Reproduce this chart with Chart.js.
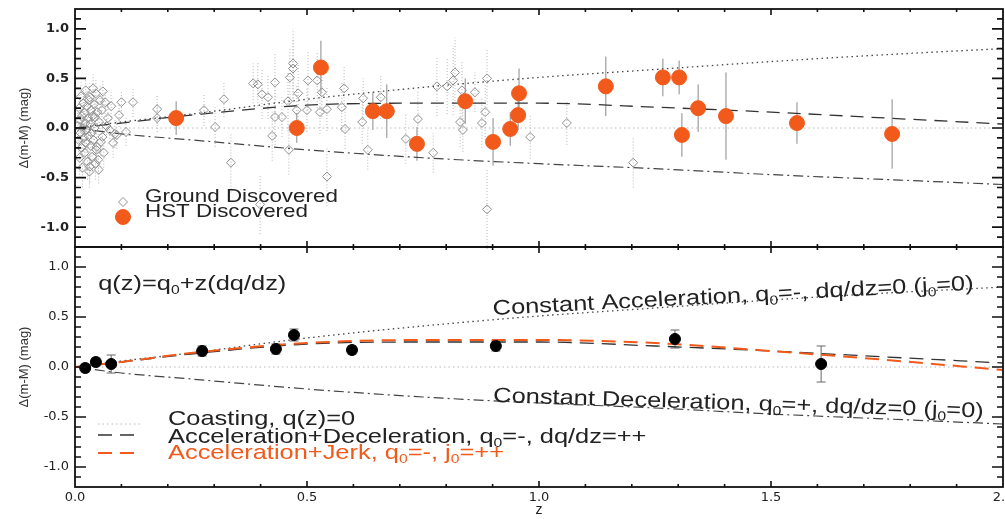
<!DOCTYPE html>
<html>
<head>
<meta charset="utf-8">
<script src="https://cdn.jsdelivr.net/npm/chart.js@4.4.1/dist/chart.umd.min.js"></script>
<style>
  html, body { margin: 0; padding: 0; background: #fff; width: 1005px; height: 519px; overflow: hidden; }
  #cTop { position: absolute; left: 0; top: 0; }
  #cBot { position: absolute; left: 0; top: 240px; }
</style>
</head>
<body>
<canvas id="cTop" width="1005" height="252"></canvas>
<canvas id="cBot" width="1005" height="279"></canvas>
<script>
// axes
const xTicks = [0, 0.5, 1.0, 1.5, 2.0];
const yTicks = [-1.0, -0.5, 0.0, 0.5, 1.0];

// model curves (delta distance modulus vs z)
const modelZ = [0, 0.1, 0.25, 0.5, 0.75, 1.0, 1.25, 1.5, 1.75, 2.0];
const constAccel = [0, 0.06, 0.14, 0.29, 0.41, 0.51, 0.59, 0.67, 0.74, 0.80];
const accelDecel = [0, 0.05, 0.13, 0.23, 0.25, 0.25, 0.21, 0.16, 0.10, 0.04];
const accelJerk = [0, 0.05, 0.14, 0.24, 0.27, 0.27, 0.24, 0.16, 0.07, -0.03];
const constDecel = [0, -0.06, -0.12, -0.22, -0.30, -0.36, -0.41, -0.47, -0.52, -0.57];
const coastZ = [0, 2.0];
const coastY = [0, 0];

// ground discovered SNe
const groundZ = [0.006, 0.008, 0.009, 0.010, 0.011, 0.012, 0.013, 0.014, 0.015, 0.016, 0.017, 0.018, 0.019, 0.020,
  0.021, 0.022, 0.023, 0.024, 0.025, 0.026, 0.027, 0.028, 0.029, 0.030, 0.031, 0.032, 0.032, 0.033, 0.034, 0.035,
  0.036, 0.037, 0.038, 0.039, 0.040, 0.041, 0.042, 0.043, 0.044, 0.045, 0.046, 0.047, 0.048, 0.050, 0.051, 0.052,
  0.054, 0.056, 0.058, 0.059, 0.060, 0.062, 0.065, 0.068, 0.071, 0.075, 0.078, 0.082, 0.086, 0.090, 0.095, 0.100,
  0.110, 0.125,
  0.177, 0.177, 0.278, 0.302, 0.321, 0.336, 0.384, 0.394, 0.399, 0.403, 0.416, 0.425, 0.431, 0.431, 0.446, 0.459,
  0.461, 0.463, 0.470, 0.470, 0.478, 0.481, 0.500, 0.502, 0.522, 0.528, 0.532, 0.543, 0.543, 0.575, 0.580, 0.582,
  0.621, 0.619, 0.631, 0.659, 0.713, 0.739, 0.772, 0.780, 0.802, 0.815, 0.819, 0.830, 0.834, 0.836, 0.862, 0.877,
  0.884, 0.888, 0.888, 0.981, 1.060, 1.203];
const groundY = [0.02, -0.12, 0.20, -0.30, 0.08, -0.05, 0.32, -0.20, 0.12, -0.40, 0.00, 0.25, -0.10, 0.15,
  -0.25, 0.05, 0.38, -0.15, -0.02, 0.22, -0.34, 0.10, -0.08, 0.28, -0.44, 0.31, -0.39, 0.04, -0.18, 0.18,
  -0.05, -0.29, 0.12, 0.40, -0.12, 0.24, 0.00, 0.11, -0.36, 0.35, -0.22, -0.19, 0.16, -0.32, -0.42, 0.06,
  0.28, -0.14, 0.18, -0.09, 0.37, -0.25, 0.26, 0.02, 0.10, -0.02, 0.22, -0.15, -0.06, -0.07, 0.13, 0.26,
  -0.04, 0.26,
  0.19, 0.10, 0.18, 0.01, 0.29, -0.35, 0.45, 0.44, -0.77, 0.34, 0.31, -0.08, 0.46, 0.11, 0.11, 0.27,
  -0.22, 0.51, 0.65, 0.60, 0.18, 0.35, 0.18, 0.48, 0.48, 0.16, 0.36, 0.19, -0.49, 0.21, 0.40, -0.01,
  0.30, 0.06, -0.22, 0.31, -0.11, 0.09, -0.25, 0.42, 0.42, 0.48, 0.56, 0.06, 0.38, -0.02, 0.36, 0.05,
  0.16, 0.50, -0.82, -0.09, 0.05, -0.35];
const groundErr = [0.15, 0.18, 0.15, 0.20, 0.12, 0.15, 0.14, 0.16, 0.18, 0.20, 0.12, 0.15, 0.14, 0.20,
  0.15, 0.12, 0.12, 0.16, 0.14, 0.16, 0.18, 0.15, 0.12, 0.14, 0.16, 0.14, 0.16, 0.12, 0.14, 0.15,
  0.12, 0.15, 0.14, 0.14, 0.15, 0.13, 0.12, 0.14, 0.16, 0.15, 0.13, 0.15, 0.12, 0.15, 0.14, 0.13,
  0.14, 0.14, 0.13, 0.12, 0.12, 0.15, 0.12, 0.12, 0.13, 0.12, 0.14, 0.15, 0.14, 0.14, 0.12, 0.12,
  0.14, 0.15,
  0.15, 0.14, 0.16, 0.20, 0.18, 0.30, 0.20, 0.22, 0.30, 0.25, 0.22, 0.25, 0.30, 0.28, 0.20, 0.30,
  0.25, 0.30, 0.35, 0.30, 0.25, 0.30, 0.22, 0.30, 0.28, 0.22, 0.25, 0.22, 0.30, 0.25, 0.22, 0.20,
  0.20, 0.22, 0.20, 0.22, 0.25, 0.28, 0.20, 0.30, 0.28, 0.35, 0.35, 0.25, 0.30, 0.22, 0.20, 0.25,
  0.28, 0.30, 0.40, 0.22, 0.22, 0.25];

// HST discovered SNe
const hstZ = [0.218, 0.478, 0.530, 0.642, 0.672, 0.737, 0.841, 0.901, 0.938, 0.955, 0.957, 1.144, 1.267, 1.302,
  1.308, 1.343, 1.403, 1.556, 1.761];
const hstY = [0.10, 0.00, 0.61, 0.17, 0.17, -0.16, 0.27, -0.14, -0.01, 0.13, 0.35, 0.42, 0.51, 0.51,
  -0.07, 0.20, 0.12, 0.05, -0.06];
const hstErr = [0.17, 0.15, 0.27, 0.19, 0.27, 0.17, 0.23, 0.24, 0.17, 0.15, 0.25, 0.30, 0.19, 0.17,
  0.22, 0.24, 0.44, 0.21, 0.35];

// binned data (lower panel)
const binZ = [0.022, 0.045, 0.078, 0.274, 0.433, 0.472, 0.597, 0.907, 1.293, 1.608];
const binY = [-0.01, 0.05, 0.03, 0.16, 0.18, 0.32, 0.17, 0.21, 0.28, 0.03];
const binErr = [0.04, 0.04, 0.09, 0.05, 0.05, 0.06, 0.04, 0.05, 0.09, 0.18];

const ORANGE = "#f25a1c";
const FONT = '"Liberation Sans", Arial, sans-serif';

function pts(xs, ys) {
  return xs.map((x, i) => ({ x: x, y: ys[i] }));
}

function curve(ys, color, dash, width) {
  return {
    type: "line",
    data: pts(modelZ, ys),
    borderColor: color,
    borderDash: dash,
    borderWidth: width,
    pointRadius: 0,
    fill: false,
    cubicInterpolationMode: "monotone",
    order: 5,
  };
}

function coastLine() {
  return {
    type: "line",
    data: pts(coastZ, coastY),
    borderColor: "#b8b8b8",
    borderDash: [1.5, 3],
    borderWidth: 1,
    pointRadius: 0,
    order: 6,
  };
}

// text with "_0" subscripts, stretched like the original figure
function drawRich(ctx, str, x, y, size, color, angle) {
  ctx.save();
  ctx.translate(x, y);
  ctx.rotate(((angle || 0) * Math.PI) / 180);
  ctx.scale(1.21, 1);
  ctx.fillStyle = color;
  ctx.textBaseline = "alphabetic";
  ctx.textAlign = "left";
  let cx = 0;
  str.split(/(_\w)/).forEach(function (p) {
    if (!p) return;
    if (p[0] === "_") {
      ctx.font = Math.round(size * 0.62) + "px " + FONT;
      ctx.fillText(p[1], cx, size * 0.2);
      cx += ctx.measureText(p[1]).width;
    } else {
      ctx.font = size + "px " + FONT;
      ctx.fillText(p, cx, 0);
      cx += ctx.measureText(p).width;
    }
  });
  ctx.restore();
}

const errorBars = {
  id: "errorBars",
  beforeDatasetsDraw(chart) {
    const ctx = chart.ctx;
    const xs = chart.scales.x;
    const ys = chart.scales.y;
    chart.data.datasets.forEach(function (ds) {
      if (!ds.errors) return;
      ctx.save();
      ctx.strokeStyle = ds.errorColor;
      ctx.lineWidth = 1;
      ctx.setLineDash(ds.errorDash || []);
      ds.data.forEach(function (p, j) {
        const e = ds.errors[j];
        const px = xs.getPixelForValue(p.x);
        const y1 = ys.getPixelForValue(p.y - e);
        const y2 = ys.getPixelForValue(p.y + e);
        ctx.beginPath();
        ctx.moveTo(px, y1);
        ctx.lineTo(px, y2);
        if (ds.errorCap) {
          ctx.moveTo(px - ds.errorCap, y1);
          ctx.lineTo(px + ds.errorCap, y1);
          ctx.moveTo(px - ds.errorCap, y2);
          ctx.lineTo(px + ds.errorCap, y2);
        }
        ctx.stroke();
      });
      ctx.restore();
    });
  },
};

// box with inward major/minor tick marks on all four sides
const frame = {
  id: "frame",
  afterDraw(chart) {
    const ctx = chart.ctx;
    const a = chart.chartArea;
    const xs = chart.scales.x;
    const ys = chart.scales.y;
    ctx.save();
    ctx.strokeStyle = "#111";
    ctx.lineWidth = 1.6;
    ctx.beginPath();
    for (let k = -11; k <= 11; k++) {
      const py = ys.getPixelForValue(k / 10);
      const len = k % 5 === 0 ? 11 : 6;
      ctx.moveTo(a.left, py);
      ctx.lineTo(a.left + len, py);
      ctx.moveTo(a.right, py);
      ctx.lineTo(a.right - len, py);
    }
    for (let k = 1; k < 20; k++) {
      const px = xs.getPixelForValue(k / 10);
      const len = k % 5 === 0 ? 6 : 3;
      ctx.moveTo(px, a.top);
      ctx.lineTo(px, a.top + len);
      ctx.moveTo(px, a.bottom);
      ctx.lineTo(px, a.bottom - len);
    }
    ctx.stroke();
    ctx.lineWidth = 1.8;
    ctx.strokeRect(a.left, a.top, a.right - a.left, a.bottom - a.top);
    ctx.restore();
  },
};

const notes = {
  id: "notes",
  afterDraw(chart, args, opts) {
    const ctx = chart.ctx;
    const a = chart.chartArea;
    const xs = chart.scales.x;
    const ys = chart.scales.y;
    (opts.labels || []).forEach(function (l) {
      drawRich(ctx, l.text, xs.getPixelForValue(l.z), ys.getPixelForValue(l.y), l.size, l.color, l.angle);
    });
    (opts.keys || []).forEach(function (k) {
      const ds = chart.data.datasets[k.dataset];
      ctx.save();
      if (k.line) {
        ctx.strokeStyle = ds.borderColor;
        ctx.lineWidth = ds.borderWidth;
        ctx.setLineDash(ds.borderDash || []);
        ctx.beginPath();
        ctx.moveTo(a.left + 23, a.top + k.markDy);
        ctx.lineTo(a.left + 66, a.top + k.markDy);
        ctx.stroke();
      } else {
        ctx.fillStyle = ds.backgroundColor;
        ctx.strokeStyle = ds.borderColor;
        ctx.lineWidth = ds.borderWidth;
        Chart.helpers.drawPoint(ctx, {
          pointStyle: ds.pointStyle,
          radius: ds.pointRadius,
          rotation: 0,
          borderWidth: ds.borderWidth,
        }, a.left + 48, a.top + k.markDy);
      }
      ctx.restore();
      drawRich(ctx, k.text, a.left + k.textDx, a.top + k.textDy, k.size, k.color, 0);
    });
  },
};

function yScale(bold) {
  return {
    min: -1.2,
    max: 1.2,
    grid: { display: false, drawTicks: false },
    border: { display: false },
    afterFit: function (s) {
      s.width = 75;
      s.paddingTop = 0;
      s.paddingBottom = 0;
    },
    afterBuildTicks: function (s) { s.ticks = yTicks.map(function (v) { return { value: v }; }); },
    ticks: {
      padding: 6,
      color: "#222",
      font: { family: "DejaVu Sans", size: 13, weight: bold ? "bold" : "normal" },
      callback: function (v) { return v.toFixed(1); },
    },
    title: {
      display: true,
      text: "Δ(m-M) (mag)",
      color: "#333",
      font: { family: FONT, size: 13 },
      padding: { top: 17, bottom: 0 },
    },
  };
}

function initTop() {
  const datasets = [
    {
      label: "HST Discovered",
      data: pts(hstZ, hstY),
      errors: hstErr,
      errorColor: "#8a8a8a",
      backgroundColor: ORANGE,
      borderColor: ORANGE,
      borderWidth: 1,
      pointStyle: "circle",
      pointRadius: 7.5,
      order: 0,
    },
    {
      label: "Ground Discovered",
      data: pts(groundZ, groundY),
      errors: groundErr,
      errorColor: "#b4b4b4",
      errorDash: [1, 2],
      backgroundColor: "rgba(255,255,255,0)",
      borderColor: "#8f8f8f",
      borderWidth: 1,
      pointStyle: "rectRot",
      pointRadius: 4.5,
      order: 1,
    },
    curve(constAccel, "#444", [1.5, 3.5], 1.3),
    curve(accelDecel, "#333", [13, 8], 1.3),
    curve(constDecel, "#444", [10, 4, 2, 4], 1.2),
    coastLine(),
  ];

  new Chart(document.getElementById("cTop"), {
    type: "scatter",
    data: { datasets: datasets },
    options: {
      responsive: false,
      animation: false,
      layout: { autoPadding: false, padding: { top: 9, right: 2, bottom: 5, left: 0 } },
      plugins: {
        legend: { display: false },
        tooltip: { enabled: false },
        notes: {
          keys: [
            { dataset: 1, text: "Ground Discovered", markDy: 193, textDx: 70, textDy: 193, size: 18.5, color: "#222" },
            { dataset: 0, text: "HST Discovered", markDy: 208, textDx: 70, textDy: 208, size: 18.5, color: "#222" },
          ],
        },
      },
      scales: {
        x: { type: "linear", min: 0, max: 2.0, display: false },
        y: yScale(true),
      },
    },
    plugins: [errorBars, frame, notes],
  });
}

function initBottom() {
  const datasets = [
    {
      label: "binned",
      data: pts(binZ, binY),
      errors: binErr,
      errorColor: "#666",
      errorCap: 4.5,
      backgroundColor: "#000",
      borderColor: "#000",
      borderWidth: 1,
      pointStyle: "circle",
      pointRadius: 5.5,
      order: 0,
    },
    coastLine(),
    curve(accelDecel, "#333", [14, 8], 1.3),
    curve(accelJerk, ORANGE, [14, 8], 2),
    curve(constAccel, "#444", [1.5, 3.5], 1.3),
    curve(constDecel, "#444", [10, 4, 2, 4], 1.2),
  ];
  datasets[3].order = 4;

  new Chart(document.getElementById("cBot"), {
    type: "scatter",
    data: { datasets: datasets },
    options: {
      responsive: false,
      animation: false,
      layout: { autoPadding: false, padding: { top: 7, right: 2, bottom: 0, left: 0 } },
      plugins: {
        legend: { display: false },
        tooltip: { enabled: false },
        notes: {
          labels: [
            { text: "q(z)=q_0+z(dq/dz)", z: 0.05, y: 0.77, size: 21, color: "#222" },
            { text: "Constant Acceleration, q_0=-, dq/dz=0 (j_0=0)", z: 0.901, y: 0.52, size: 21, color: "#222", angle: -3 },
            { text: "Constant Deceleration, q_0=+, dq/dz=0 (j_0=0)", z: 0.901, y: -0.35, size: 21, color: "#222", angle: 1.8 },
          ],
          keys: [
            { dataset: 1, line: true, text: "Coasting, q(z)=0", markDy: 177, textDx: 93, textDy: 178, size: 21, color: "#222" },
            { dataset: 2, line: true, text: "Acceleration+Deceleration, q_0=-, dq/dz=++", markDy: 188, textDx: 93, textDy: 196, size: 21, color: "#222" },
            { dataset: 3, line: true, text: "Acceleration+Jerk, q_0=-, j_0=++", markDy: 206, textDx: 93, textDy: 212, size: 21, color: ORANGE },
          ],
        },
      },
      scales: {
        x: {
          type: "linear",
          min: 0,
          max: 2.0,
          grid: { display: false, drawTicks: false },
          border: { display: false },
          afterBuildTicks: function (s) { s.ticks = xTicks.map(function (v) { return { value: v }; }); },
          afterFit: function (s) { s.height = 32; s.paddingLeft = 0; s.paddingRight = 0; },
          ticks: {
            padding: 3,
            maxRotation: 0,
            autoSkip: false,
            color: "#222",
            font: { family: "DejaVu Sans", size: 13 },
            callback: function (v) { return v.toFixed(1); },
          },
          title: { display: true, text: "z", color: "#222", font: { family: FONT, size: 14 }, padding: 0 },
        },
        y: yScale(false),
      },
    },
    plugins: [errorBars, frame, notes],
  });
}

window.onload = function () {
  initTop();
  initBottom();
};
</script>
</body>
</html>
